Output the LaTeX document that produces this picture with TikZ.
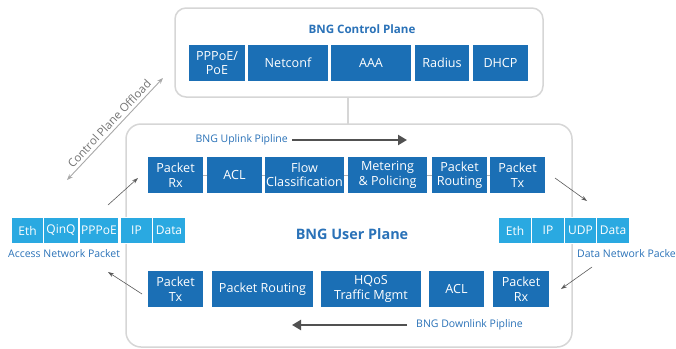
\documentclass[tikz,border=0pt]{standalone}
\usepackage{fontspec}
\setmainfont{Open Sans}
\usetikzlibrary{arrows.meta}
\definecolor{ublue}{HTML}{1B6FB5}
\definecolor{lblue}{HTML}{2AA9E1}
\definecolor{tblue}{HTML}{2A72B8}
\definecolor{agray}{HTML}{5A5A5A}
\definecolor{fgray}{HTML}{D6D6D6}
\definecolor{ogray}{HTML}{A8A8A8}
\begin{document}
\begin{tikzpicture}[x=1pt,y=-1pt,
  dbox/.style={fill=ublue, text=white, inner sep=0pt, align=center, minimum height=36pt, font=\fontsize{12.6}{14.5}\selectfont},
  pbox/.style={fill=lblue, draw=white, line width=0.8pt, text=white, inner sep=0pt, minimum height=26pt, font=\fontsize{12}{14}\selectfont},
  frame/.style={draw=fgray, line width=1.5pt, fill=white},
  thin arrow/.style={draw=agray, line width=0.6pt, -{Stealth[length=6pt,width=4pt]}},
  pipe arrow/.style={draw=agray!90!black, line width=2.6pt, -{Triangle[length=9pt,width=10pt]}},
  lbl/.style={text=tblue, font=\fontsize{10.5}{13}\selectfont, inner sep=0pt},
  link/.style={draw=gray!60, line width=0.8pt}
]
\useasboundingbox (0,0) rectangle (676,348);

% frames
\draw[frame, rounded corners=11pt] (175,8) rectangle (543,97);
\draw[frame, rounded corners=15pt] (126,124) rectangle (572,347);
\coordinate (cpb) at (348,97);
\coordinate (upt) at (348,124);
\draw[draw=fgray, line width=2pt] (cpb) -- (upt);

% control plane
\node[text=tblue, font=\bfseries\fontsize{11.6}{14}\selectfont] (cptitle) at (362,29) {BNG Control Plane};
\node[dbox, minimum width=56pt] (cpppoe) at (217,63) {PPPoE/\\PoE};
\node[dbox, minimum width=80pt] (cnetconf) at (288,63) {Netconf};
\node[dbox, minimum width=80pt] (caaa) at (371,63) {AAA};
\node[dbox, minimum width=54pt] (cradius) at (442,63) {Radius};
\node[dbox, minimum width=55pt] (cdhcp) at (500.5,63) {DHCP};

% uplink
\node[lbl, anchor=east] (uplbl) at (288,140) {BNG Uplink Pipline};
\coordinate (ua1) at (292,140);
\coordinate (ua2) at (407,140);
\draw[pipe arrow] (ua1) -- (ua2);

\node[dbox, minimum width=55pt] (urx) at (175.5,175) {Packet\\Rx};
\node[dbox, minimum width=55pt] (uacl) at (234.5,175) {ACL};
\node[dbox, minimum width=79pt] (uflow) at (304.5,175) {Flow\\Classification};
\node[dbox, minimum width=79pt] (umet) at (387.5,175) {Metering\\\&~Policing};
\node[dbox, minimum width=55pt] (urout) at (459.5,175) {Packet\\Routing};
\node[dbox, minimum width=55pt] (utx) at (517.5,175) {Packet\\Tx};
\draw[link] (urx.east) -- (uacl.west);
\draw[link] (uacl.east) -- (uflow.west);
\draw[link] (uflow.east) -- (umet.west);
\draw[link] (umet.east) -- (urout.west);
\draw[link] (urout.east) -- (utx.west);

% user plane title
\node[text=tblue, font=\bfseries\fontsize{14.4}{17}\selectfont] (uptitle) at (352,234) {BNG User Plane};

% downlink
\node[dbox, minimum width=55pt] (dtx) at (175.5,289) {Packet\\Tx};
\node[dbox, minimum width=101pt] (drout) at (262.5,289) {Packet Routing};
\node[dbox, minimum width=100pt] (dhqos) at (371,289) {HQoS\\Traffic Mgmt};
\node[dbox, minimum width=55pt] (dacl) at (456.5,289) {ACL};
\node[dbox, minimum width=56pt] (drx) at (521,289) {Packet\\Rx};

\coordinate (da1) at (407,325);
\coordinate (da2) at (292,325);
\draw[pipe arrow] (da1) -- (da2);
\node[lbl, anchor=west] (dnlbl) at (416,325) {BNG Downlink Pipline};

% access network packet
\node[pbox, minimum width=32pt] (aeth) at (27.5,230.5) {Eth};
\node[pbox, minimum width=35pt] (aqinq) at (61,230.5) {QinQ};
\node[pbox, minimum width=39pt] (apppoe) at (99,230.5) {PPPoE};
\node[pbox, minimum width=32pt] (aip) at (136.5,230.5) {IP};
\node[pbox, minimum width=33pt] (adata) at (169,230.5) {Data};
\node[lbl, anchor=west] (albl) at (8,254) {Access Network Packet};

% data network packet
\node[pbox, minimum width=33pt] (neth) at (515,230.5) {Eth};
\node[pbox, minimum width=33pt] (nip) at (548,230.5) {IP};
\node[pbox, minimum width=32pt] (nudp) at (580.5,230.5) {UDP};
\node[pbox, minimum width=33pt] (ndata) at (613,230.5) {Data};
\node[lbl, anchor=west] (nlbl) at (577,254) {Data Network Packet};

% thin arrows
\coordinate (a1s) at (108,205);
\coordinate (a1e) at (138,178);
\draw[thin arrow] (a1s) -- (a1e);
\coordinate (a2s) at (142,294);
\coordinate (a2e) at (108,272);
\draw[thin arrow] (a2s) -- (a2e);
\coordinate (a3s) at (555,178);
\coordinate (a3e) at (587,201);
\draw[thin arrow] (a3s) -- (a3e);
\coordinate (a4s) at (592,267);
\coordinate (a4e) at (561,289);
\draw[thin arrow] (a4s) -- (a4e);

% control plane offload
\coordinate (o1) at (67,180);
\coordinate (o2) at (163,78);
\draw[draw=ogray, line width=0.9pt, {Stealth[length=6pt,width=4.5pt]}-{Stealth[length=6pt,width=4.5pt]}] (o1) -- node[sloped, above=3pt, text=agray!85, font=\fontsize{11.5}{13}\selectfont, inner sep=0pt] (olbl) {Control Plane Offload} (o2);
\end{tikzpicture}
\end{document}
